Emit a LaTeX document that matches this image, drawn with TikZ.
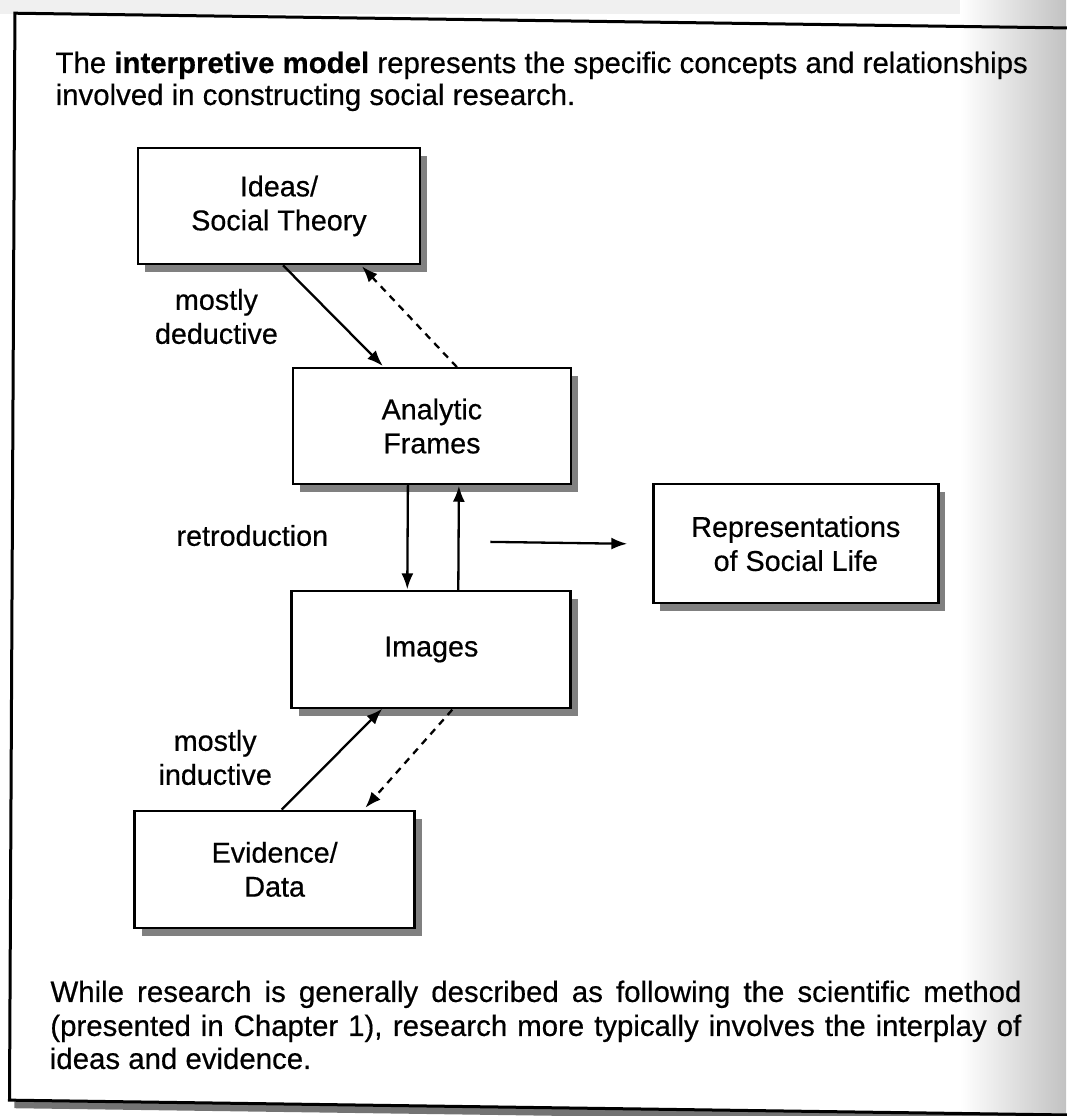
\documentclass[tikz,border=0pt]{standalone}
\usepackage{fontspec}
\setmainfont{Liberation Sans}[FakeBold=0.5]
\usetikzlibrary{arrows.meta,shadows}
\newcommand\bxfont{\fontsize{28.7}{34}\selectfont}
\newcommand\ttlfont{\fontsize{29.4}{34}\selectfont}
\begin{document}
\begin{tikzpicture}[x=1pt,y=-1pt,
  box/.style={draw, line width=2.6pt, fill=white, inner sep=0pt, align=center, font=\bxfont,
    drop shadow={shadow xshift=7pt, shadow yshift=-8pt, fill=black!50, opacity=1}},
  lbl/.style={inner sep=0pt, align=center, font=\bxfont},
  txt/.style={inner sep=0pt, anchor=base, font=\ttlfont},
  arr/.style={line width=2.3pt, -{Latex[length=16pt,width=12pt]}},
  dsh/.style={arr, dash pattern=on 7pt off 6pt}]
\useasboundingbox (0,0) rectangle (1066,1116);
\fill[white] (0,0) rectangle (1066,1116);
\fill[black!6] (0,0) rectangle (1066,14);
\shade[left color=white, right color=black!24] (960,0) rectangle (1066,1116);
\begin{scope}[yslant=-0.014, xslant=0.005]
  % outer frame
  \fill[black!55] (20,1101) rectangle (1100,1108);
  \draw[line width=3pt] (15,13) rectangle (1100,1100);
  % caption texts
  \node[txt] (t1) at (542,65.4) {The \textbf{interpretive model} represents the specific concepts and relationships};
  \coordinate (t2l) at (56,104.2);
  \node[txt, anchor=base west] (t2) at (t2l) {involved in constructing social research.};
  \node[txt] (b1) at (541,994.4) {\makebox[971pt][s]{While research is generally described as following the scientific method}};
  \node[txt] (b2) at (541,1028.4) {\makebox[971pt][s]{(presented in Chapter 1), research more typically involves the interplay of}};
  \coordinate (b3l) at (55,1068.2);
  \node[txt, anchor=base west] (b3) at (b3l) {ideas and evidence.};
  % boxes
  \node[box, minimum width=282pt, minimum height=116pt] (ideas) at (280,202) {Ideas/\\Social Theory};
  \node[box, minimum width=278pt, minimum height=116pt] (ana) at (434,420) {Analytic\\Frames};
  \node[box, minimum width=279pt, minimum height=117pt] (img) at (434.5,643.5) {Images};
  \node[box, minimum width=285pt, minimum height=119pt] (rep) at (798.5,532.5) {Representations\\of Social Life};
  \node[box, minimum width=280pt, minimum height=117pt] (evd) at (279,865.5) {Evidence/\\Data};
  % labels
  \node[lbl] (ded) at (218,313.5) {mostly\\deductive};
  \node[lbl] (retro) at (255,532) {retroduction};
  \node[lbl] (ind) at (219,754.5) {mostly\\inductive};
  % connectors
  \draw[arr] ([xshift=4pt]ideas.south) -- ([xshift=-49pt]ana.north);
  \draw[dsh] ([xshift=25pt]ana.north) -- ([xshift=83pt]ideas.south);
  \draw[arr] ([xshift=-24pt]ana.south) -- ([xshift=-24pt]img.north);
  \draw[arr] ([xshift=27pt]img.north) -- ([xshift=27pt]ana.south);
  \coordinate (rs) at (493,535);
  \coordinate (re) at (630,535);
  \draw[arr] (rs) -- (re);
  \draw[arr] ([xshift=7pt]evd.north) -- ([xshift=-49pt]img.south);
  \draw[dsh, shorten >=4pt] ([xshift=21pt]img.south) -- ([xshift=88pt]evd.north);
\end{scope}
\end{tikzpicture}
\end{document}
